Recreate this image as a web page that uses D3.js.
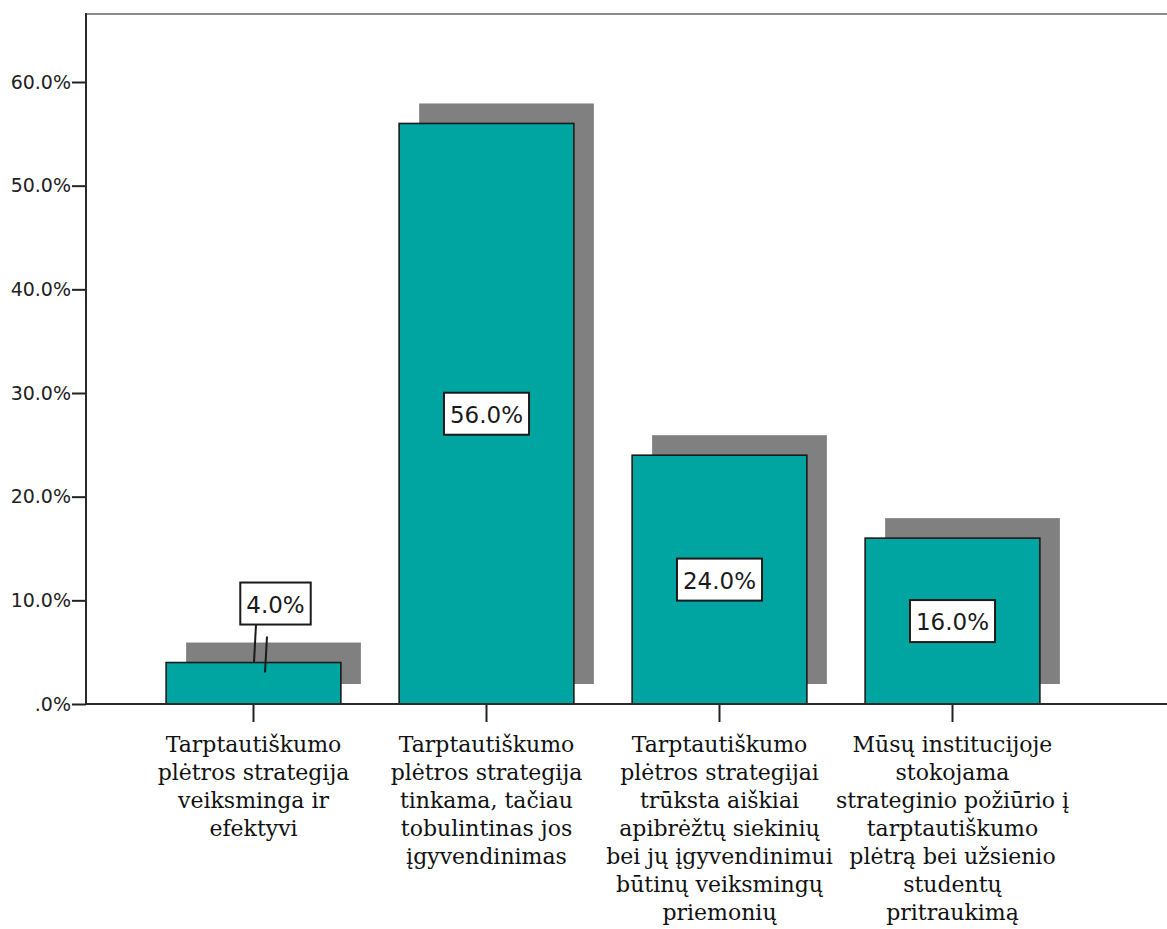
<!DOCTYPE html>
<html>
<head>
<meta charset="utf-8">
<script src="https://cdn.jsdelivr.net/npm/d3@7"></script>
<style>
  body { margin: 0; background: #fff; }
  svg { display: block; }
</style>
</head>
<body>
<svg id="chart" width="1167" height="929"></svg>
<script>
// Response categories, one array of wrapped lines per bar
const categories = [
  ["Tarptautiškumo", "plėtros strategija", "veiksminga ir", "efektyvi"],
  ["Tarptautiškumo", "plėtros strategija", "tinkama, tačiau", "tobulintinas jos", "įgyvendinimas"],
  ["Tarptautiškumo", "plėtros strategijai", "trūksta aiškiai", "apibrėžtų siekinių", "bei jų įgyvendinimui", "būtinų veiksmingų", "priemonių"],
  ["Mūsų institucijoje", "stokojama", "strateginio požiūrio į", "tarptautiškumo", "plėtrą bei užsienio", "studentų", "pritraukimą"]
];
// Share of respondents, percent
const percentages = [4.0, 56.0, 24.0, 16.0];
// Value-axis ticks, percent
const yTicks = [0, 10, 20, 30, 40, 50, 60];

const W = 1167, H = 929;
const plot = { left: 86, top: 14, bottom: 704, right: W };
const svg = d3.select("#chart");

const x = d3.scaleBand()
  .domain(d3.range(categories.length))
  .range([137, 1069])
  .padding(0);
const barW = x.bandwidth() * 0.75;
const barX = i => x(i) + (x.bandwidth() - barW) / 2;
const cx = i => x(i) + x.bandwidth() / 2;

const y = d3.scaleLinear().domain([0, 60]).range([plot.bottom, 82]);

const shadow = 20;

// drop shadows behind the bars
svg.append("g").selectAll("rect")
  .data(percentages)
  .join("rect")
  .attr("x", (d, i) => barX(i) + shadow)
  .attr("y", d => y(d) - shadow)
  .attr("width", barW)
  .attr("height", d => plot.bottom - y(d))
  .attr("fill", "#808080");

// bars
svg.append("g").selectAll("rect")
  .data(percentages)
  .join("rect")
  .attr("x", (d, i) => barX(i))
  .attr("y", d => y(d))
  .attr("width", barW)
  .attr("height", d => plot.bottom - y(d))
  .attr("fill", "#00a5a2")
  .attr("stroke", "#1a1a1a")
  .attr("stroke-width", 1.6);

// top frame line
svg.append("line")
  .attr("x1", plot.left).attr("x2", plot.right)
  .attr("y1", plot.top).attr("y2", plot.top)
  .attr("stroke", "#8a8a8a").attr("stroke-width", 2);

// y axis
const yAxis = svg.append("g")
  .attr("transform", `translate(${plot.left},0)`)
  .call(d3.axisLeft(y)
    .tickValues(yTicks)
    .tickSize(14)
    .tickPadding(1)
    .tickFormat(d => d === 0 ? ".0%" : d.toFixed(1) + "%"));
yAxis.select(".domain").remove();
yAxis.selectAll(".tick line").attr("stroke", "#222").attr("stroke-width", 2);
yAxis.selectAll(".tick text")
  .attr("font-family", "DejaVu Sans")
  .attr("font-size", 19)
  .attr("fill", "#222");
svg.append("line")
  .attr("x1", plot.left).attr("x2", plot.left)
  .attr("y1", plot.top - 1).attr("y2", plot.bottom)
  .attr("stroke", "#2a2a2a").attr("stroke-width", 2);

// x axis
const xAxis = svg.append("g")
  .attr("transform", `translate(0,${plot.bottom})`)
  .call(d3.axisBottom(x).tickSize(18).tickFormat(""));
xAxis.select(".domain").remove();
xAxis.selectAll(".tick line").attr("stroke", "#222").attr("stroke-width", 2);
svg.append("line")
  .attr("x1", plot.left).attr("x2", plot.right)
  .attr("y1", plot.bottom).attr("y2", plot.bottom)
  .attr("stroke", "#2a2a2a").attr("stroke-width", 2);

// category labels
const catG = svg.append("g")
  .attr("font-family", "DejaVu Serif")
  .attr("font-size", 22)
  .attr("fill", "#111")
  .attr("text-anchor", "middle");
categories.forEach((lines, i) => {
  const t = catG.append("text").attr("x", cx(i)).attr("y", 752);
  lines.forEach((ln, k) => {
    t.append("tspan").attr("x", cx(i)).attr("dy", k === 0 ? 0 : 28).text(ln);
  });
});

// value labels in boxes
const boxH = 42, padX = 6;
const labG = svg.append("g");
percentages.forEach((v, i) => {
  const g = labG.append("g");
  const txt = g.append("text")
    .attr("font-family", "DejaVu Sans")
    .attr("font-size", 23)
    .attr("fill", "#1a1a1a")
    .attr("text-anchor", "middle")
    .attr("dominant-baseline", "central")
    .text(v.toFixed(1) + "%");
  const tw = txt.node().getComputedTextLength();
  const bw = tw + 2 * padX;
  const barH = plot.bottom - y(v);
  let lx, ly;
  if (barH > boxH + 10) {
    lx = cx(i);
    ly = (y(v) + plot.bottom) / 2;
  } else {
    // too short to hold the label: lift it above the bar with a leader
    lx = cx(i) + 22;
    ly = y(v) - 38 - boxH / 2;
    const boxBottom = ly + boxH / 2;
    labG.append("line")
      .attr("x1", cx(i) + 2.5).attr("y1", boxBottom)
      .attr("x2", cx(i) + 0.5).attr("y2", y(v))
      .attr("stroke", "#1a1a1a").attr("stroke-width", 2);
    labG.append("line")
      .attr("x1", cx(i) + 13.5).attr("y1", y(v) - 26)
      .attr("x2", cx(i) + 11.5).attr("y2", y(v) + 10)
      .attr("stroke", "#1a1a1a").attr("stroke-width", 2);
  }
  g.insert("rect", "text")
    .attr("x", lx - bw / 2).attr("y", ly - boxH / 2)
    .attr("width", bw).attr("height", boxH)
    .attr("fill", "#fff")
    .attr("stroke", "#1a1a1a")
    .attr("stroke-width", 2);
  txt.attr("x", lx).attr("y", ly + 1);
});
</script>
</body>
</html>
